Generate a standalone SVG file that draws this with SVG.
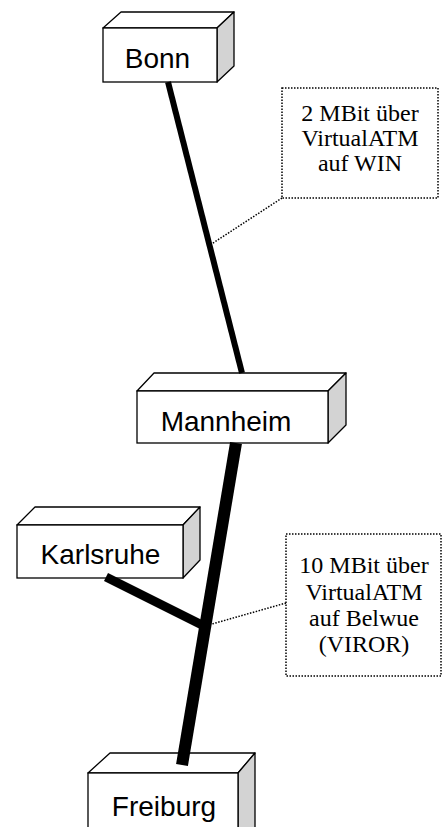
<svg xmlns="http://www.w3.org/2000/svg" width="443" height="827" viewBox="0 0 443 827">
<style>
.front{fill:#fff;stroke:#000;stroke-width:1.3}
.top{fill:#fff;stroke:#000;stroke-width:1.3;stroke-linejoin:round}
.side{fill:#d3d3d3;stroke:#000;stroke-width:1.3;stroke-linejoin:round}
.lbl{font-family:"Liberation Sans",Arial,sans-serif;font-size:28px;text-anchor:middle;fill:#000}
.note{font-family:"Liberation Serif","Times New Roman",serif;font-size:24px;text-anchor:middle;fill:#000}
.dot{fill:none;stroke:#000;stroke-width:1.5;stroke-dasharray:1.5 1.5}
.link{stroke:#000;fill:none;stroke-linecap:butt}
</style>
<rect width="443" height="827" fill="#fff"/>
<g id="bonn">
<polygon class="top" points="103,28 121,12 234,12 217,28"/>
<polygon class="side" points="217,28 234,12 234,66 217,82"/>
<rect class="front" x="103" y="28" width="114" height="54"/>
<text class="lbl" x="157.5" y="68">Bonn</text>
</g>
<g id="mannheim">
<polygon class="top" points="137,391 154,373 346,373 328,391"/>
<polygon class="side" points="328,391 346,373 346,425 328,443"/>
<rect class="front" x="137" y="391" width="191" height="52"/>
<text class="lbl" x="226" y="431">Mannheim</text>
</g>
<g id="karlsruhe">
<polygon class="top" points="17,525 35,507 200,507 183,525"/>
<polygon class="side" points="183,525 200,507 200,560 183,578"/>
<rect class="front" x="17" y="525" width="166" height="53"/>
<text class="lbl" x="100.5" y="564">Karlsruhe</text>
</g>
<g id="freiburg">
<polygon class="top" points="88,773 110,753 255,753 238,773"/>
<polygon class="side" points="238,773 255,753 255,830 238,840"/>
<rect class="front" x="88" y="773" width="150" height="70"/>
<text class="lbl" x="164" y="816">Freiburg</text>
</g>
<g id="note-win">
<rect class="dot" x="282" y="88" width="156" height="110"/>
<text class="note" x="360" y="121">2 MBit über</text>
<text class="note" x="360" y="146">VirtualATM</text>
<text class="note" x="360" y="171">auf WIN</text>
</g>
<g id="note-belwue">
<rect class="dot" x="286" y="534" width="155" height="142"/>
<text class="note" x="364" y="573">10 MBit über</text>
<text class="note" x="364" y="600">VirtualATM</text>
<text class="note" x="364" y="626">auf Belwue</text>
<text class="note" x="364" y="652">(VIROR)</text>
</g>
<g id="connectors">
<line class="link" x1="168" y1="82" x2="242" y2="373" stroke-width="6"/>
<line class="link" x1="236" y1="443" x2="182" y2="765" stroke-width="12"/>
<line class="link" x1="106" y1="577" x2="204" y2="626" stroke-width="9"/>
<line class="dot" x1="282" y1="198" x2="210" y2="245"/>
<line class="dot" x1="286" y1="603" x2="212" y2="624"/>
</g>
</svg>
